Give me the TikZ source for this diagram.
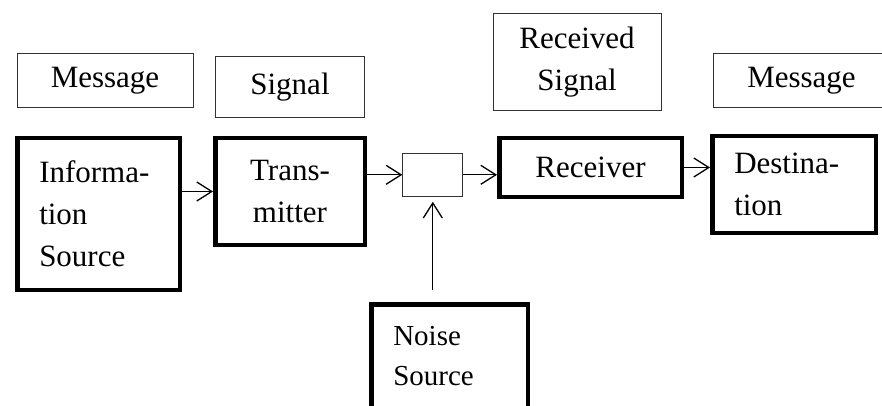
\documentclass[tikz,border=0pt]{standalone}
\usepackage{fontspec}
\setmainfont{Liberation Serif}
\usetikzlibrary{arrows.meta}

\begin{document}
\begin{tikzpicture}[x=1pt,y=-1pt,
  lbl/.style={draw=black!80,line width=1pt,inner sep=0pt,align=center,font=\fontsize{31}{42}\selectfont},
  blk/.style={draw,line width=4.5pt,inner sep=0pt,font=\fontsize{31}{42}\selectfont},
  arr/.style={line width=1.3pt,-{Straight Barb[length=15pt,width=19pt,line width=1.3pt]}}]
  \useasboundingbox (0,0) rectangle (882,406);
  % labels above the chain
  \node[lbl,minimum width=176pt,minimum height=54pt] at (105,80.8) (msgA) {Message};
  \node[lbl,minimum width=149pt,minimum height=61.6pt] at (290,87) (sig) {Signal};
  \node[lbl,minimum width=168pt,minimum height=97pt] at (577,62.5) (rsig) {Received\\Signal};
  \node[lbl,minimum width=176pt,minimum height=54pt] at (801.5,80.8) (msgB) {Message};
  % the chain
  \node[blk,minimum width=162.5pt,minimum height=151.5pt,inner xsep=22pt,text width=118.5pt,align=left] at (98.5,214) (info) {Informa-\\tion\\Source};
  \node[blk,minimum width=149.5pt,minimum height=106.5pt,align=center] at (290,191.5) (trans) {Trans-\\mitter};
  \node[lbl,minimum width=60pt,minimum height=43pt] at (432.8,174.8) (chan) {};
  \node[blk,minimum width=182.5pt,minimum height=58.5pt] at (590.5,167.5) (rec) {Receiver};
  \node[blk,minimum width=163.5pt,minimum height=96.5pt,inner xsep=22pt,text width=119.5pt,align=left] at (794,184.5) (dest) {Destina-\\tion};
  \node[blk,anchor=north,inner xsep=22pt,inner ysep=22pt,text width=112.5pt,align=left,text depth=50pt,
        font=\fontsize{29}{40}\selectfont] at (449.5,302.25) (noise) {Noise\\Source};
  % connectors
  \draw[arr] (info.east |- trans.west) -- (trans.west);
  \draw[arr] (trans.east |- chan.west) -- (chan.west);
  \draw[arr] (chan.east) -- (chan.east -| rec.west);
  \draw[arr] (rec.east) -- (rec.east -| dest.west);
  \draw[arr,shorten <=12pt,shorten >=5pt] (chan.south |- noise.north) -- (chan.south);
\end{tikzpicture}
\end{document}
